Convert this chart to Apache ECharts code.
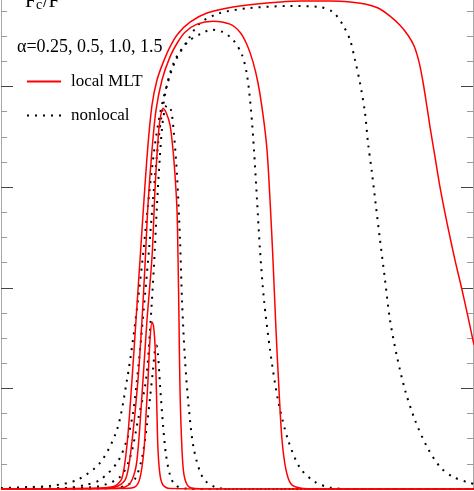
<!DOCTYPE html>
<html>
<head>
<meta charset="utf-8">
<script src="https://cdn.jsdelivr.net/npm/echarts@6/dist/echarts.min.js"></script>
<style>
  html, body { margin: 0; padding: 0; background: #fff; }
  #chart { width: 474px; height: 491px; }
</style>
</head>
<body>
<div id="chart"></div>
<script>
// F_c/F against depth (x in plot units)
const localA150 = [[1,0],[100,0.002],[115,0.006],[122,0.022],[127,0.088],[132,0.217],[136,0.336],[140,0.455],[144,0.575],[148,0.684],[152,0.763],[157,0.813],[163,0.847],[170,0.879],[178,0.905],[190,0.928],[207,0.946],[233,0.958],[267,0.966],[300,0.970],[330,0.970],[350,0.968],[365,0.964],[378,0.956],[390,0.940],[400,0.922],[408,0.902],[414,0.881],[419,0.849],[423,0.809],[427,0.759],[430,0.720],[435,0.660],[440,0.600],[447,0.529],[455,0.455],[462,0.396],[468,0.342],[474,0.286]]
const localA100 = [[1,0],[105,0.001],[118,0.006],[126,0.022],[131,0.078],[138,0.217],[142,0.336],[145,0.445],[148,0.565],[152,0.674],[156,0.753],[162,0.813],[170,0.859],[178,0.889],[185,0.908],[197,0.924],[213,0.930],[230,0.924],[240,0.908],[247,0.883],[253,0.849],[258,0.807],[263,0.744],[267,0.674],[270,0.575],[273,0.455],[276,0.316],[279,0.197],[282,0.098],[286,0.038],[291,0.010],[300,0.002],[320,0],[474,0]]
const localA050 = [[1,0],[110,0.001],[125,0.004],[132,0.018],[137,0.058],[143,0.217],[147,0.336],[152,0.461],[155,0.595],[158,0.694],[160,0.734],[163,0.757],[166,0.749],[170,0.724],[173,0.674],[175,0.624],[177,0.555],[178,0.461],[179,0.336],[180,0.197],[182,0.078],[184,0.028],[188,0.006],[195,0.001],[220,0],[474,0]]
const localA025 = [[1,0],[125,0.001],[135,0.004],[140,0.022],[144,0.078],[146,0.147],[148,0.217],[150,0.297],[152,0.332],[153.5,0.324],[155,0.287],[156,0.227],[157,0.147],[158,0.078],[160,0.028],[163,0.008],[170,0.001],[220,0],[474,0]]

const nonlocalA150 = [[1,0.002],[30,0.004],[50,0.006],[77,0.018],[100,0.052],[117,0.118],[127,0.217],[133,0.297],[138,0.376],[143,0.465],[148,0.565],[153,0.654],[158,0.724],[165,0.789],[175,0.849],[188,0.893],[200,0.926],[220,0.946],[250,0.956],[290,0.960],[320,0.958],[333,0.948],[343,0.922],[350,0.893],[355,0.853],[360,0.807],[365,0.748],[368,0.688],[372,0.628],[376,0.561],[380,0.495],[385,0.416],[390,0.336],[397,0.263],[405,0.197],[415,0.137],[427,0.084],[440,0.044],[453,0.024],[470,0.012],[474,0.010]]
const nonlocalA100 = [[1,0],[40,0.001],[67,0.002],[85,0.008],[100,0.018],[117,0.052],[127,0.098],[133,0.151],[137,0.217],[141,0.297],[145,0.386],[149,0.475],[153,0.575],[157,0.664],[161,0.734],[167,0.803],[175,0.853],[188,0.889],[200,0.904],[212,0.913],[222,0.909],[233,0.893],[242,0.863],[247,0.823],[251,0.753],[254,0.674],[257,0.575],[260,0.475],[264,0.376],[270,0.277],[278,0.177],[288,0.098],[300,0.042],[315,0.014],[330,0.003],[350,0],[474,0]]
const nonlocalA050 = [[1,0],[60,0.001],[100,0.006],[120,0.024],[130,0.062],[138,0.137],[146,0.217],[150,0.316],[154,0.445],[157,0.565],[160,0.664],[163,0.734],[167,0.763],[171,0.753],[174,0.704],[177,0.624],[180,0.495],[182,0.376],[185,0.257],[189,0.157],[194,0.078],[203,0.022],[215,0.004],[235,0],[474,0]]
const nonlocalA025 = [[1,0],[100,0.001],[125,0.006],[135,0.020],[142,0.062],[147,0.128],[150,0.181],[153,0.237],[155,0.277],[156.5,0.285],[158,0.267],[160,0.207],[163,0.128],[166,0.068],[170,0.028],[175,0.008],[185,0.001],[210,0],[474,0]]

const minorTicks = [0.05, 0.1, 0.15, 0.25, 0.3, 0.35, 0.45, 0.5, 0.55, 0.65, 0.7, 0.75, 0.85, 0.9, 0.95]
const majorTicks = [0.2, 0.4, 0.6, 0.8]
const alphaText = 'α=0.25, 0.5, 1.0, 1.5'

const FONT = "'Liberation Serif', 'DejaVu Serif', serif"
const Y_MAX = 0.972

const yAxisFor = (position, ticks, len, color, showLine) => ({
  type: 'value',
  position,
  min: 0,
  max: Y_MAX,
  axisLine: { show: showLine, lineStyle: { color: '#a8a8a8', width: 1 } },
  axisTick: { show: true, inside: true, length: len, customValues: ticks, lineStyle: { color, width: 1 } },
  axisLabel: { show: false },
  splitLine: { show: false }
})

const lineSeries = (name, data, dotted) => ({
  name,
  type: 'line',
  data,
  showSymbol: false,
  symbol: 'none',
  smooth: 0.3,
  silent: true,
  z: dotted ? 2 : 3,
  itemStyle: { color: dotted ? '#000' : '#ff0000' },
  lineStyle: dotted
    ? { color: '#000', width: 2, type: [2, 6] }
    : { color: '#ff0000', width: 1.5 }
})

const chart = echarts.init(document.getElementById('chart'), null, { renderer: 'canvas' })
chart.setOption({
  animation: false,
  backgroundColor: '#fff',
  grid: { left: 1, right: 1, top: 0, bottom: 2, containLabel: false },
  xAxis: { type: 'value', min: 1, max: 473, show: false },
  yAxis: [
    yAxisFor('left', minorTicks, 6, '#9a9a9a', true),
    yAxisFor('left', majorTicks, 12, '#444', false),
    yAxisFor('right', minorTicks, 6, '#9a9a9a', true),
    yAxisFor('right', majorTicks, 12, '#444', false)
  ],
  legend: {
    data: ['local MLT', 'nonlocal'],
    orient: 'vertical',
    left: 21,
    top: 68,
    itemWidth: 34,
    itemHeight: 14,
    itemGap: 17,
    selectedMode: false,
    itemStyle: { opacity: 0 },
    textStyle: { fontFamily: FONT, fontSize: 17, color: '#000', padding: [0, 0, 0, 5] }
  },
  graphic: [
    { type: 'text', left: 25, top: -8, style: { text: 'F', font: '20px ' + FONT, fill: '#000' } },
    { type: 'text', left: 36, top: -2, style: { text: 'c', font: '14px ' + FONT, fill: '#000' } },
    { type: 'text', left: 43, top: -8, style: { text: '/F', font: '20px ' + FONT, fill: '#000' } },
    { type: 'text', left: 17, top: 38, style: { text: alphaText, font: '18px ' + FONT, fill: '#000' } }
  ],
  series: [
    lineSeries('nonlocal', nonlocalA150, true),
    lineSeries('nonlocal', nonlocalA100, true),
    lineSeries('nonlocal', nonlocalA050, true),
    lineSeries('nonlocal', nonlocalA025, true),
    lineSeries('local MLT', localA150, false),
    lineSeries('local MLT', localA100, false),
    lineSeries('local MLT', localA050, false),
    lineSeries('local MLT', localA025, false)
  ]
})
</script>
</body>
</html>
